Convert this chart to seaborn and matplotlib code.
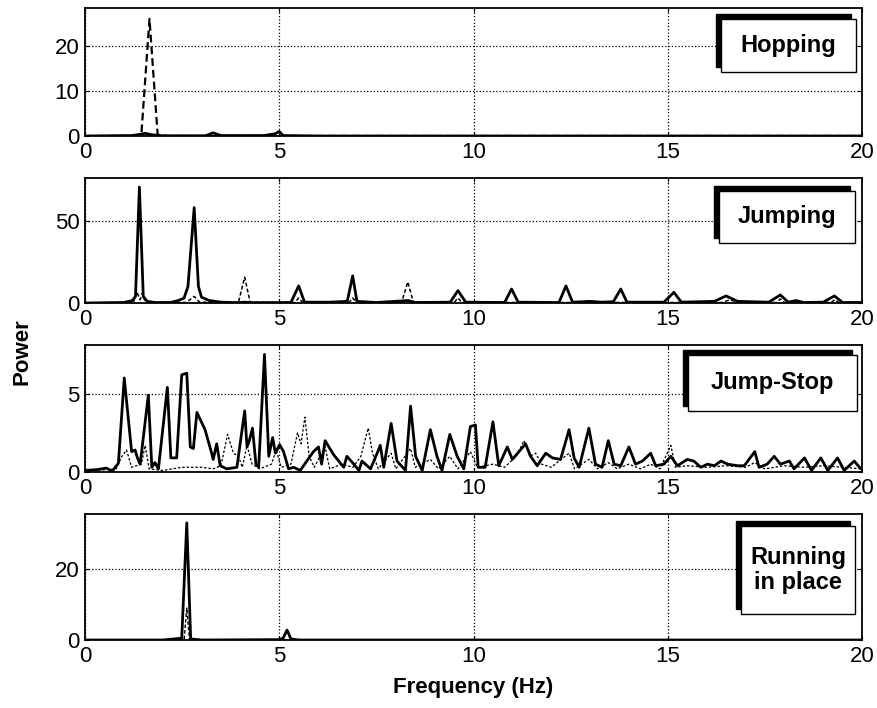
import matplotlib
matplotlib.use("Agg")
import matplotlib.pyplot as plt
from matplotlib.patches import Rectangle
import pandas as pd
import seaborn as sns

# ---- data (vertex frequency in Hz, power) ----
hop_solid_f = [0, 1.2, 1.45, 1.55, 1.7, 2.0, 3.1, 3.3, 3.5, 4.6, 4.9, 5.0, 5.1, 6.0, 20]
hop_solid_p = [0, 0.1, 0.4, 0.6, 0.3, 0.05, 0.05, 0.7, 0.1, 0.1, 0.5, 1.0, 0.1, 0, 0]
hop_dash_f = [0, 1.2, 1.45, 1.66, 1.87, 2.1, 20]
hop_dash_p = [0, 0, 0.3, 26, 0.3, 0, 0]

jump_solid_f = [0, 1.0, 1.22, 1.30, 1.40, 1.50, 1.6, 1.8, 2.2, 2.4, 2.55, 2.65, 2.81, 2.92,
                3.0, 3.2, 3.5, 3.9, 4.11, 4.3, 5.3, 5.5, 5.65, 6.3, 6.75, 6.89, 7.0, 7.5,
                8.31, 8.5, 9.4, 9.6, 9.8, 10.8, 10.98, 11.15, 12.2, 12.38, 12.55, 13.0,
                13.3, 13.6, 13.79, 13.95, 14.9, 15.16, 15.35, 16.2, 16.5, 16.8, 17.6,
                17.9, 18.1, 18.3, 18.5, 19.0, 19.29, 19.5, 20]
jump_solid_p = [0, 0.3, 1.5, 4, 70.5, 4, 1, 0.3, 0.3, 1.5, 3, 10, 58, 10,
                3.5, 1.5, 0.5, 0.2, 0.5, 0.2, 0.3, 10.4, 0.5, 0.5, 1, 16.5, 1, 0.3,
                1.5, 0.3, 0.5, 7.5, 0.5, 0.3, 8.5, 0.5, 0.3, 10.4, 0.5, 1,
                0.5, 0.8, 8.5, 0.5, 0.5, 6.5, 0.5, 1, 4.3, 1, 0.5,
                4.9, 0.5, 1.5, 0.3, 0.5, 4.3, 0.3, 0.3]
jump_dash_f = [0, 1.25, 1.33, 1.42, 1.48, 1.55, 2.6, 2.7, 2.81, 2.95, 3.95, 4.11, 4.25,
               5.4, 5.5, 5.6, 6.8, 6.89, 7.0, 8.15, 8.31, 8.45, 9.5, 9.6, 9.7, 16.4,
               16.6, 16.8, 17.8, 17.9, 18.0, 19.2, 19.3, 19.4, 20]
jump_dash_p = [0, 0.5, 6.9, 2, 6, 0.5, 0.3, 2, 4, 0.5, 0.5, 15.7, 0.5,
               0.3, 3, 0.3, 0.3, 3, 0.3, 0.5, 12.8, 0.5, 0.3, 3, 0.3, 0.3,
               2, 0.3, 0.3, 2.5, 0.3, 0.3, 2, 0.3, 0.3]

js_solid_f = [0, 0.3, 0.55, 0.7, 0.86, 1.01, 1.2, 1.29, 1.35, 1.42, 1.63, 1.72, 1.80, 1.89,
              2.12, 2.21, 2.36, 2.49, 2.62, 2.71, 2.79, 2.88, 3.09, 3.26, 3.30, 3.39, 3.48,
              3.65, 3.91, 4.11, 4.17, 4.23, 4.31, 4.40, 4.47, 4.62, 4.73, 4.83, 4.90, 5.01,
              5.11, 5.24, 5.37, 5.54, 5.88, 6.01, 6.09, 6.18, 6.40, 6.66, 6.74, 6.92, 7.05,
              7.13, 7.35, 7.52, 7.60, 7.69, 7.88, 8.03, 8.25, 8.38, 8.51, 8.68, 8.89, 9.06,
              9.19, 9.39, 9.58, 9.75, 9.92, 10.05, 10.12, 10.3, 10.5, 10.65, 10.87, 11.0,
              11.34, 11.47, 11.64, 11.86, 12.03, 12.24, 12.46, 12.59, 12.72, 12.97, 13.14,
              13.31, 13.47, 13.62, 13.79, 14.0, 14.17, 14.35, 14.56, 14.69, 14.9, 15.08,
              15.25, 15.5, 15.67, 15.85, 16.02, 16.2, 16.37, 16.54, 16.8, 16.97, 17.24,
              17.35, 17.56, 17.74, 17.9, 18.13, 18.25, 18.52, 18.7, 18.94, 19.12, 19.37,
              19.54, 19.8, 19.97]
js_solid_p = [0.1, 0.15, 0.25, 0.05, 0.56, 6.0, 1.3, 1.4, 0.9, 0.5, 4.9, 0.3, 0.6, 0.2,
              5.4, 0.9, 0.9, 6.2, 6.3, 1.6, 1.5, 3.8, 2.7, 1.2, 0.8, 1.8, 0.4,
              0.2, 0.3, 3.9, 1.6, 2.0, 2.8, 0.5, 0.3, 7.5, 1.0, 2.2, 1.2, 1.75,
              1.3, 0.2, 0.3, 0.1, 1.3, 1.6, 0.5, 2.0, 1.1, 0.3, 1.0, 0.5, 0.1,
              0.7, 0.2, 1.2, 1.7, 0.3, 3.1, 0.7, 0.1, 4.2, 1.0, 0.1, 2.7, 1.0,
              0.1, 2.4, 1.0, 0.2, 2.9, 3.0, 0.3, 0.3, 3.2, 0.4, 1.6, 0.8,
              1.8, 1.0, 0.4, 1.2, 0.9, 0.8, 2.7, 0.9, 0.3, 2.8, 0.5,
              0.3, 2.0, 0.5, 0.4, 1.6, 0.5, 0.7, 1.2, 0.4, 0.5, 1.0,
              0.4, 0.8, 0.7, 0.3, 0.5, 0.4, 0.7, 0.5, 0.4, 0.4, 1.3,
              0.3, 0.5, 1.0, 0.5, 0.7, 0.2, 0.9, 0.1, 0.9, 0.1, 0.9,
              0.1, 0.7, 0.2]
js_dash_f = [0, 0.8, 0.95, 1.07, 1.2, 1.45, 1.55, 1.65, 2.0, 2.5, 3.0, 3.3, 3.5, 3.67, 3.82,
             3.95, 4.05, 4.17, 4.3, 4.5, 4.8, 4.92, 5.05, 5.3, 5.47, 5.56, 5.66, 5.77, 5.9,
             6.18, 6.3, 6.6, 6.9, 7.1, 7.29, 7.4, 7.55, 7.88, 8.0, 8.38, 8.5, 8.89, 9.1,
             9.39, 9.6, 9.92, 10.1, 10.5, 10.8, 11.1, 11.3, 11.45, 11.6, 11.75, 12.0,
             12.46, 12.6, 12.97, 13.2, 13.47, 13.7, 14.0, 14.3, 14.56, 14.8, 15.08, 15.2,
             15.5, 16.0, 16.5, 17.0, 17.24, 17.5, 18.0, 18.5, 19.0, 19.5, 20]
js_dash_p = [0.05, 0.2, 1.0, 1.4, 0.3, 0.5, 1.7, 0.2, 0.1, 0.3, 0.3, 0.2, 0.4, 2.4, 1.2,
             1.0, 0.3, 1.7, 0.5, 0.2, 0.5, 1.4, 0.3, 0.5, 2.5, 1.8, 3.5, 1.0, 0.3,
             1.6, 0.2, 0.5, 0.3, 1.0, 2.8, 1.2, 0.2, 1.2, 0.2, 1.5, 0.3, 0.8, 0.2,
             1.0, 0.2, 1.3, 0.3, 0.5, 0.3, 1.0, 2.0, 1.0, 1.2, 0.5, 0.3,
             1.2, 0.2, 0.8, 0.2, 0.6, 0.2, 0.5, 0.2, 0.5, 0.2, 1.7, 0.3,
             0.4, 0.3, 0.4, 0.3, 0.6, 0.2, 0.4, 0.3, 0.4, 0.3, 0.2]

run_solid_f = [0, 2.0, 2.49, 2.62, 2.72, 3.0, 5.0, 5.1, 5.2, 5.3, 5.5, 20]
run_solid_p = [0, 0, 0.5, 33, 0.3, 0, 0.1, 0.5, 2.8, 0.3, 0, 0]
run_dash_f = [0, 2.55, 2.62, 2.69, 20]
run_dash_p = [0, 0, 9, 0, 0]

panel_names = ["Hopping", "Jumping", "Jump-Stop", "Running\nin place"]
panel_ylims = [28.4, 76, 8.1, 35.5]
panel_yticks = [[0, 10, 20], [0, 50], [0, 5], [0, 20]]
freq_ticks = [0, 5, 10, 15, 20]

series = [
    (hop_solid_f, hop_solid_p, hop_dash_f, hop_dash_p),
    (jump_solid_f, jump_solid_p, jump_dash_f, jump_dash_p),
    (js_solid_f, js_solid_p, js_dash_f, js_dash_p),
    (run_solid_f, run_solid_p, run_dash_f, run_dash_p),
]

# ---- layout (figure pixels) ----
W, H = 877, 708
axes_px = [(8, 136), (178, 303), (345, 472), (514, 640)]   # top, bottom
boxes_px = [(721, 19, 856, 72), (719, 191, 855, 243),
            (688, 355, 857, 411), (741, 526, 855, 614)]
dash_styles = [((3.5, 1.8), 1.6), ((2.5, 1.5), 1.1), ((2, 1.5), 0.9), ((2.5, 1.5), 1.0)]

sns.set_style("ticks")
plt.rcParams["font.family"] = ["Liberation Sans", "DejaVu Sans"]
plt.rcParams.update({"text.color": "black", "axes.labelcolor": "black",
                     "xtick.color": "black", "ytick.color": "black"})

fig = plt.figure(figsize=(W / 100, H / 100), dpi=100)

for i, (top, bot) in enumerate(axes_px):
    ax = fig.add_axes([85 / W, 1 - bot / H, (862 - 85) / W, (bot - top) / H])
    sf, sp, df_, dp = series[i]
    dashes, dlw = dash_styles[i]
    sns.lineplot(data=pd.DataFrame({"f": df_, "p": dp}), x="f", y="p", ax=ax,
                 color="black", lw=dlw, sort=False, estimator=None,
                 zorder=3).lines[-1].set_dashes(dashes)
    sns.lineplot(data=pd.DataFrame({"f": sf, "p": sp}), x="f", y="p", ax=ax,
                 color="black", lw=2.0, sort=False, estimator=None, zorder=4)
    ax.set_xlim(0, 20)
    ax.set_ylim(0, panel_ylims[i])
    ax.set_xticks(freq_ticks)
    ax.set_yticks(panel_yticks[i])
    ax.set_xlabel("")
    ax.set_ylabel("")
    ax.grid(True, color="black", ls=":", lw=0.9)
    ax.tick_params(direction="in", length=3, labelsize=16, top=True, right=True,
                   color="black", labelcolor="black", pad=4)
    for s in ax.spines.values():
        s.set_color("black")
        s.set_linewidth(1.3)

    # label box with a dark offset shadow (up-left)
    x0, y0, x1, y1 = boxes_px[i]
    fig.add_artist(Rectangle(((x0 - 5) / W, 1 - (y1 - 5) / H), (x1 - x0) / W,
                             (y1 - y0) / H, transform=fig.transFigure,
                             facecolor="black", edgecolor="black", zorder=10))
    fig.add_artist(Rectangle((x0 / W, 1 - y1 / H), (x1 - x0) / W, (y1 - y0) / H,
                             transform=fig.transFigure, facecolor="white",
                             edgecolor="black", lw=1.0, zorder=11))
    fig.text((x0 + x1) / 2 / W, 1 - (y0 + y1) / 2 / H, panel_names[i],
             ha="center", va="center", fontsize=17, fontweight="bold",
             color="black", linespacing=1.1, zorder=12)

fig.text(22 / W, 1 - 352 / H, "Power", rotation=90, ha="center", va="center",
         fontsize=16, fontweight="bold", color="black")
fig.text(473 / W, 1 - 688 / H, "Frequency (Hz)", ha="center", va="center",
         fontsize=16, fontweight="bold", color="black")

fig.savefig("out.png", dpi=100)
